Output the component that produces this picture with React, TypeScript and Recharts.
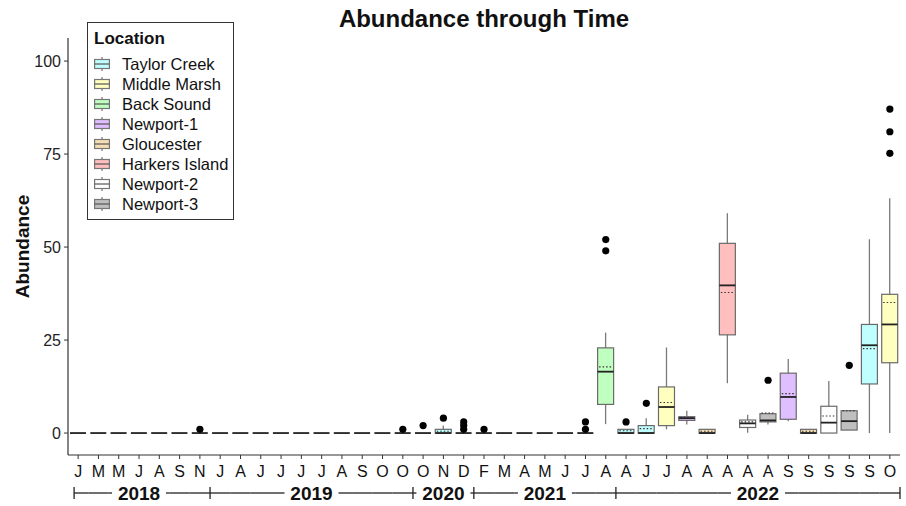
import React from 'react';
import { ComposedChart, Bar, Scatter, XAxis, YAxis, Legend } from 'recharts';

const FONT = '"Liberation Sans", Arial, sans-serif';

// ---- categories (sampling events) ----
const months = [
  'J', 'M', 'M', 'J', 'A', 'S', 'N',
  'J', 'A', 'J', 'J', 'J', 'J', 'A', 'S', 'O', 'O',
  'O', 'N', 'D',
  'F', 'M', 'A', 'M', 'J', 'J', 'A',
  'A', 'J', 'J', 'A', 'A', 'A', 'A', 'A', 'S', 'S', 'S', 'S', 'S', 'O',
];
const yearLabels = ['2018', '2019', '2020', '2021', '2022'];
const yearCounts = [7, 10, 3, 7, 14];

// ---- locations ----
const locationNames = ['Taylor Creek', 'Middle Marsh', 'Back Sound', 'Newport-1', 'Gloucester', 'Harkers Island', 'Newport-2', 'Newport-3'];
const locationColors = ['#BFFFFF', '#FFFFBF', '#BFFFBF', '#DFBFFF', '#F5DEB3', '#FFBFBF', '#FFFFFF', '#BFBFBF'];

const sampleLocation = [
  'Taylor Creek', 'Taylor Creek', 'Taylor Creek', 'Taylor Creek', 'Taylor Creek', 'Taylor Creek', 'Taylor Creek',
  'Taylor Creek', 'Taylor Creek', 'Taylor Creek', 'Taylor Creek', 'Taylor Creek', 'Taylor Creek', 'Taylor Creek', 'Taylor Creek', 'Taylor Creek', 'Taylor Creek',
  'Taylor Creek', 'Taylor Creek', 'Middle Marsh',
  'Back Sound', 'Back Sound', 'Back Sound', 'Back Sound', 'Back Sound', 'Back Sound', 'Back Sound',
  'Taylor Creek', 'Taylor Creek', 'Middle Marsh', 'Newport-1', 'Gloucester', 'Harkers Island', 'Newport-2', 'Newport-3',
  'Newport-1', 'Gloucester', 'Newport-2', 'Newport-3', 'Taylor Creek', 'Middle Marsh',
];

// ---- box statistics ----
const whiskerLow = [
  0, 0, 0, 0, 0, 0, 0,
  0, 0, 0, 0, 0, 0, 0, 0, 0, 0,
  0, 0, 0,
  0, 0, 0, 0, 0, 0, 2.4,
  0, 0, 1, 2.3, 0, 13.4, 0.1, 2.3, 3.2, 0, 0, 0.8, 0, 0,
];
const q1Values = [
  0, 0, 0, 0, 0, 0, 0,
  0, 0, 0, 0, 0, 0, 0, 0, 0, 0,
  0, 0, 0,
  0, 0, 0, 0, 0, 0, 7.7,
  0, 0, 2, 3.4, 0, 26.4, 1.5, 3.0, 3.7, 0, 0, 0.8, 13.2, 18.9,
];
const medianValues = [
  0, 0, 0, 0, 0, 0, 0,
  0, 0, 0, 0, 0, 0, 0, 0, 0, 0,
  0, 0, 0,
  0, 0, 0, 0, 0, 0, 16.5,
  0, 0, 7, 4, 0, 39.7, 2.6, 3.4, 9.7, 0, 2.8, 3.2, 23.6, 29.2,
];
const meanValues = [
  0, 0, 0, 0, 0, 0, 0,
  0, 0, 0, 0, 0, 0, 0, 0, 0, 0,
  0, 0.5, 0,
  0, 0, 0, 0, 0, 0, 17.8,
  0.6, 1.2, 8.2, 4.2, 0.5, 37.8, 3.0, 5.4, 10.6, 0.5, 4.6, 6.0, 22.7, 35.1,
];
const q3Values = [
  0, 0, 0, 0, 0, 0, 0,
  0, 0, 0, 0, 0, 0, 0, 0, 0, 0,
  0, 1, 0,
  0, 0, 0, 0, 0, 0, 22.9,
  1, 2, 12.4, 4.4, 1, 51, 3.5, 5.2, 16.1, 1, 7.2, 6.0, 29.2, 37.3,
];
const whiskerHigh = [
  0, 0, 0, 0, 0, 0, 0,
  0, 0, 0, 0, 0, 0, 0, 0, 0, 0,
  0, 2, 0,
  0, 0, 0, 0, 0, 0, 27,
  1, 4, 23, 6, 1, 59.1, 4.9, 5.2, 19.9, 1, 14, 6.0, 52.1, 63.1,
];
const outlierValues: number[][] = [
  [], [], [], [], [], [], [1],
  [], [], [], [], [], [], [], [], [], [1],
  [2], [4], [1, 2, 3],
  [1], [], [], [], [], [1, 3], [49, 52],
  [3], [8], [], [], [], [], [], [14.2], [], [], [], [18.2], [], [75.2, 81, 87.1],
];

const yTicks = [0, 25, 50, 75, 100];
const yDomain = [-5.9, 106.2];

// ---- table for the chart ----
const data = months.map((m, i) => ({
  i,
  month: m,
  loc: sampleLocation[i],
  whisker: [whiskerLow[i], whiskerHigh[i]],
  box: [q1Values[i], q3Values[i]],
  q1: q1Values[i],
  q3: q3Values[i],
  med: medianValues[i],
  mean: meanValues[i],
  o1: outlierValues[i][0] ?? null,
  o2: outlierValues[i][1] ?? null,
  o3: outlierValues[i][2] ?? null,
}));

// year group of each category
const groupOf: number[] = [];
const groupStart: number[] = [];
const groupEnd: number[] = [];
{
  let s = 0;
  yearCounts.forEach((c, g) => {
    groupStart.push(s);
    groupEnd.push(s + c - 1);
    for (let k = 0; k < c; k++) groupOf.push(g);
    s += c;
  });
}

const colorOf = (loc: string) => locationColors[locationNames.indexOf(loc)] || '#fff';

const WhiskerShape = (props: any) => {
  const { x, y, width, height } = props;
  const top = Math.min(y, y + height);
  const h = Math.abs(height);
  if (!(h > 0)) return <g />;
  const cx = x + width / 2;
  return <line x1={cx} x2={cx} y1={top} y2={top + h} stroke="#7a7a7a" strokeWidth={1.3} />;
};

const BoxShape = (props: any) => {
  const { x, y, width, height, payload } = props;
  const top = Math.min(y, y + height);
  const h = Math.abs(height);
  const span = payload.q3 - payload.q1;
  const toPx = (v: number) => (span > 0 ? top + (h * (payload.q3 - v)) / span : top);
  const medY = toPx(payload.med);
  const meanY = toPx(payload.mean);
  return (
    <g>
      <rect x={x} y={top} width={width} height={h} fill={colorOf(payload.loc)} stroke="#6a6a6a" strokeWidth={span > 0 ? 1.2 : 2.6} />
      {span > 0 && (
        <line x1={x + 1.5} x2={x + width - 1.5} y1={meanY} y2={meanY} stroke="#333" strokeWidth={1.1} strokeDasharray="1.5 2" />
      )}
      <line x1={x} x2={x + width} y1={medY} y2={medY} stroke="#222" strokeWidth={1.8} />
    </g>
  );
};

const outlierShape = (key: string) => (props: any) => {
  const { cx, cy, payload } = props;
  if (payload == null || payload[key] == null) return <g />;
  return <circle cx={cx} cy={cy} r={3.6} fill="#000" />;
};

const MonthTick = (props: any) => {
  const { x, y, payload } = props;
  return (
    <text x={x} y={y} dy="0.8em" textAnchor="middle" fontSize={16} fill="#111" fontFamily={FONT}>
      {months[payload.value]}
    </text>
  );
};

const LABEL_HALF_GAP = 27;

const YearTick = (props: any) => {
  const { x, y, payload, width, visibleTicksCount } = props;
  const i = payload.value;
  const bw = width && visibleTicksCount ? width / visibleTicksCount : 20.3;
  const g = groupOf[i];
  const center = x + ((groupStart[g] + groupEnd[g]) / 2 - i) * bw;
  const a = i === 0 ? x - bw * 0.2 : x - bw / 2;
  const b = x + bw / 2;
  const gapA = center - LABEL_HALF_GAP;
  const gapB = center + LABEL_HALF_GAP;
  const pieces: [number, number][] = [];
  if (b <= gapA || a >= gapB) pieces.push([a, b]);
  else {
    if (a < gapA) pieces.push([a, gapA]);
    if (b > gapB) pieces.push([gapB, b]);
  }
  const isCenterHere = Math.abs(center - x) <= bw / 2 + 1e-6 && (center - x < bw / 2 - 1e-6 || i === groupEnd[g]);
  return (
    <g>
      {pieces.map(([p, q], k) => (
        <line key={k} x1={p} x2={q} y1={y} y2={y} stroke="#222" strokeWidth={1.3} />
      ))}
      {i === groupStart[g] && <line x1={a} x2={a} y1={y - 6} y2={y + 6} stroke="#222" strokeWidth={1.3} />}
      {i === months.length - 1 && <line x1={b} x2={b} y1={y - 6} y2={y + 6} stroke="#222" strokeWidth={1.3} />}
      {isCenterHere && (
        <text x={center} y={y} dy="0.36em" textAnchor="middle" fontSize={19} fontWeight="bold" fill="#111" fontFamily={FONT}>
          {yearLabels[g]}
        </text>
      )}
    </g>
  );
};

const LegendBox = () => (
  <div
    style={{
      boxSizing: 'border-box',
      width: 147,
      border: '1px solid #333',
      background: '#fff',
      padding: '6px 4px 5px 6px',
      fontFamily: FONT,
      color: '#111',
    }}
  >
    <div style={{ fontWeight: 'bold', fontSize: 17, lineHeight: '20px', marginBottom: 5 }}>Location</div>
    {locationNames.map((n, k) => (
      <div key={n} style={{ display: 'flex', alignItems: 'center', height: 20, fontSize: 16.5 }}>
        <svg width={16} height={16} style={{ flex: 'none' }}>
          <line x1={8} x2={8} y1={1} y2={15} stroke="#777" strokeWidth={1.2} />
          <rect x={0.6} y={3.5} width={14.8} height={9} fill={locationColors[k]} stroke="#777" strokeWidth={1.2} />
          <line x1={0.6} x2={15.4} y1={8} y2={8} stroke="#555" strokeWidth={1.2} />
        </svg>
        <span style={{ marginLeft: 12, whiteSpace: 'nowrap' }}>{n}</span>
      </div>
    ))}
  </div>
);

export default function App() {
  return (
    <div style={{ position: 'absolute', left: 0, top: 0, width: 906, height: 506, background: '#fff' }}>
      <div
        style={{
          position: 'absolute',
          left: 68,
          width: 832,
          top: 5,
          textAlign: 'center',
          fontFamily: FONT,
          fontWeight: 'bold',
          fontSize: 24,
          lineHeight: '28px',
          color: '#111',
        }}
      >
        Abundance through Time
      </div>
      <ComposedChart
        width={906}
        height={506}
        data={data}
        margin={{ top: 38, right: 6, bottom: 0, left: 0 }}
        barSize={16}
        barGap={-16}
      >
        <XAxis
          dataKey="i"
          type="category"
          interval={0}
          height={38}
          tick={<MonthTick />}
          tickSize={4}
          tickMargin={5}
          axisLine={{ stroke: '#333', strokeWidth: 1.2 }}
          tickLine={{ stroke: '#333' }}
        />
        <XAxis
          xAxisId="year"
          dataKey="i"
          type="category"
          interval={0}
          height={13}
          tickSize={0}
          tickMargin={0}
          tick={<YearTick />}
          tickLine={false}
          axisLine={false}
        />
        <YAxis
          type="number"
          domain={yDomain}
          allowDataOverflow
          ticks={yTicks}
          width={68}
          tickSize={4}
          tickMargin={3}
          tick={{ fontSize: 16, fill: '#222', fontFamily: FONT }}
          axisLine={{ stroke: '#333', strokeWidth: 1.2 }}
          tickLine={{ stroke: '#333' }}
          label={(p: any) => {
            const vb = p.viewBox || {};
            const cx = (vb.x ?? 0) + 22;
            const cy = (vb.y ?? 38) + (vb.height ?? 417) / 2;
            return (
              <text x={cx} y={cy} transform={`rotate(-90, ${cx}, ${cy})`} textAnchor="middle" dy="0.35em" fontSize={19} fontWeight="bold" fill="#111" fontFamily={FONT}>
                Abundance
              </text>
            );
          }}
        />
        <Legend
          layout="vertical"
          align="center"
          verticalAlign="middle"
          content={<LegendBox />}
          wrapperStyle={{ left: 87, top: 22, width: 'auto', height: 'auto' }}
        />
        <Bar dataKey="whisker" shape={<WhiskerShape />} isAnimationActive={false} legendType="none" />
        <Bar dataKey="box" shape={<BoxShape />} isAnimationActive={false} legendType="none" />
        <Scatter dataKey="o1" shape={outlierShape('o1')} isAnimationActive={false} legendType="none" />
        <Scatter dataKey="o2" shape={outlierShape('o2')} isAnimationActive={false} legendType="none" />
        <Scatter dataKey="o3" shape={outlierShape('o3')} isAnimationActive={false} legendType="none" />
      </ComposedChart>
    </div>
  );
}
